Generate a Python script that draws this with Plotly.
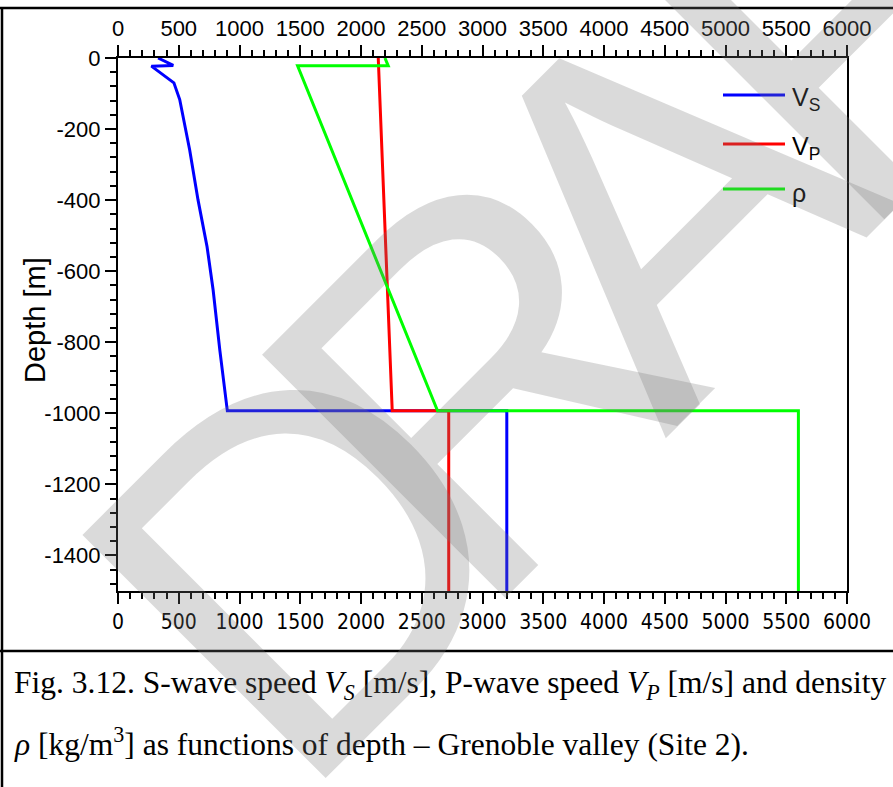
import math
import plotly.graph_objects as go

# S-wave speed profile [m/s] vs depth [m]
vs_depth = [0, -21, -23, -70, -117, -259, -400, -531, -653, -822, -993, -993, -1500]
vs_value = [330, 455, 275, 460, 508, 590, 659, 733, 783, 838, 900, 3200, 3200]

# P-wave speed profile [m/s]
vp_depth = [0, -993, -993, -1500]
vp_value = [2142, 2257, 2722, 2722]

# density profile [kg/m^3]
rho_depth = [0, -22, -22, -993, -993, -1500]
rho_value = [2197, 2224, 1478, 2630, 5600, 5600]

x_ticks = list(range(0, 6001, 500))
y_ticks = list(range(0, -1501, -200))

W, H = 893, 787
ML, MR, MT, MB = 118, 46, 58, 196
PW, PH = W - ML - MR, H - MT - MB


def px(x):
    return (x - ML) / PW


def py(y):
    return (MT + PH - y) / PH


ARIAL = "Arial, Liberation Sans, sans-serif"
NARROW = "DejaVu Sans Condensed, Liberation Sans Narrow, Arial Narrow, sans-serif"
SERIF = "Times New Roman, Liberation Serif, serif"

fig = go.Figure()
fig.add_trace(go.Scatter(x=vs_value, y=vs_depth, mode="lines",
                         line=dict(color="#0000FF", width=3), name="Vs"))
fig.add_trace(go.Scatter(x=vp_value, y=vp_depth, mode="lines",
                         line=dict(color="#FF0000", width=3), name="Vp"))
fig.add_trace(go.Scatter(x=rho_value, y=rho_depth, mode="lines",
                         line=dict(color="#00FF00", width=3), name="rho"))
# invisible trace so the top axis is drawn
fig.add_trace(go.Scatter(x=[0, 6000], y=[0, 0], xaxis="x2", mode="lines",
                         line=dict(width=0), hoverinfo="skip", showlegend=False))

axis_common = dict(showline=True, linecolor="black", linewidth=2,
                   ticks="outside", ticklen=11, tickwidth=2, tickcolor="black",
                   showgrid=False, zeroline=False)

fig.update_layout(
    width=W, height=H,
    margin=dict(l=ML, r=MR, t=MT, b=MB),
    paper_bgcolor="white", plot_bgcolor="white",
    showlegend=False,
    xaxis=dict(range=[0, 6000], tickvals=x_ticks,
               ticktext=[str(v) for v in x_ticks],
               tickfont=dict(family=NARROW, size=21, color="black"),
               minor=dict(dtick=100, tick0=0, ticklen=6, tickwidth=2,
                          tickcolor="black", ticks="outside"),
               **axis_common),
    xaxis2=dict(range=[0, 6000], overlaying="x", side="top", anchor="y",
                tickvals=x_ticks, ticktext=[str(v) for v in x_ticks],
                tickfont=dict(family=ARIAL, size=22, color="black"),
                minor=dict(dtick=100, tick0=0, ticklen=6, tickwidth=2,
                           tickcolor="black", ticks="outside"),
                **axis_common),
    yaxis=dict(range=[-1500, 0], tickvals=y_ticks,
               ticktext=[str(v) for v in y_ticks],
               tickfont=dict(family=ARIAL, size=22, color="black"),
               minor=dict(dtick=40, tick0=0, ticklen=6, tickwidth=2,
                          tickcolor="black", ticks="outside"),
               mirror=True,
               **axis_common),
)

# y-axis title
fig.add_annotation(xref="paper", yref="paper", x=px(35), y=py(320),
                   xanchor="center", yanchor="middle", showarrow=False,
                   text="Depth [m]", textangle=-90,
                   font=dict(family=ARIAL, size=29, color="black"))

# frame around figure and caption
frame = dict(color="black", width=2.5)
fig.add_shape(type="line", xref="paper", yref="paper",
              x0=px(0), x1=px(W), y0=py(8), y1=py(8), line=frame)
fig.add_shape(type="line", xref="paper", yref="paper",
              x0=px(2), x1=px(2), y0=py(8), y1=py(H), line=frame)
fig.add_shape(type="line", xref="paper", yref="paper",
              x0=px(0), x1=px(W), y0=py(651), y1=py(651), line=frame)

# legend
legend_items = [("#0000FF", "V<sub>S</sub>", 95),
                ("#FF0000", "V<sub>P</sub>", 144),
                ("#00FF00", "ρ", 189)]
for color, label, yy in legend_items:
    fig.add_shape(type="line", xref="paper", yref="paper",
                  x0=px(723), x1=px(785), y0=py(yy), y1=py(yy),
                  line=dict(color=color, width=3))
    fig.add_annotation(xref="paper", yref="paper", x=px(790), y=py(yy + 4),
                       text=label, showarrow=False, xanchor="left", yanchor="middle",
                       font=dict(family=ARIAL, size=25, color="black"))

# caption
fig.add_annotation(xref="paper", yref="paper", x=px(12), y=py(685),
                   xanchor="left", yanchor="middle", showarrow=False,
                   text="Fig. 3.12. S-wave speed <i>V<sub>S</sub></i> [m/s], P-wave speed "
                        "<i>V<sub>P</sub></i> [m/s] and density",
                   font=dict(family=SERIF, size=31.5, color="black"))
fig.add_annotation(xref="paper", yref="paper", x=px(12), y=py(742),
                   xanchor="left", yanchor="middle", showarrow=False,
                   text="<i>ρ</i> [kg/m<sup>3</sup>] as functions of depth – Grenoble valley (Site 2).",
                   font=dict(family=SERIF, size=31.5, color="black"))

# DRAFT watermark, one letter at a time along a 45° baseline
wm_letters = ["D", "R", "A", "F", "T"]
wm_start, wm_step, wm_mid = -180, 254, 607  # along / across the baseline, in px
for i, ch in enumerate(wm_letters):
    s = wm_start + i * wm_step
    cx = (s + wm_mid) / math.sqrt(2)
    cy = (wm_mid - s) / math.sqrt(2)
    fig.add_annotation(xref="paper", yref="paper", x=px(cx), y=py(cy),
                       xanchor="center", yanchor="middle", showarrow=False,
                       text=ch, textangle=-45,
                       font=dict(family=ARIAL, size=500, color="rgba(120,120,120,0.27)"))

fig.write_html("out.html")
